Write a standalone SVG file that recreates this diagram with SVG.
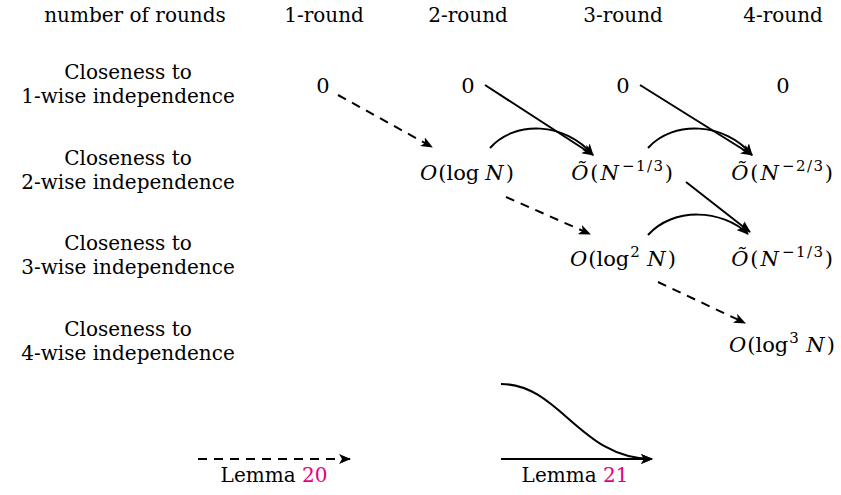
<svg xmlns="http://www.w3.org/2000/svg" width="841" height="495" viewBox="0 0 841 495">
<defs>
<style>
text{font-family:"DejaVu Serif",serif;font-size:20px;fill:#000;text-anchor:middle}
.m{font-size:21px}
.i{font-style:italic}
.sup{font-size:15px;letter-spacing:1.5px}
.ref{fill:#e6007e}
.c{fill:none;stroke:#000;stroke-width:2}
.d{stroke-dasharray:9,7}
</style>
<marker id="ah" viewBox="0 0 12 10" refX="11" refY="5" markerWidth="12" markerHeight="10" markerUnits="userSpaceOnUse" orient="auto">
<path d="M0,0 L12,5 L0,10 L3,5 Z" fill="#000"/>
</marker>
</defs>
<rect width="841" height="495" fill="#fff"/>
<g id="header">
<text x="135" y="22">number of rounds</text>
<text x="324" y="22">1-round</text>
<text x="468" y="22">2-round</text>
<text x="623" y="22">3-round</text>
<text x="783" y="22">4-round</text>
</g>
<g id="row-labels">
<text x="128" y="79">Closeness to</text>
<text x="128" y="103">1-wise independence</text>
<text x="128" y="165">Closeness to</text>
<text x="128" y="189">2-wise independence</text>
<text x="128" y="250">Closeness to</text>
<text x="128" y="274">3-wise independence</text>
<text x="128" y="336">Closeness to</text>
<text x="128" y="360">4-wise independence</text>
</g>
<g id="n11"><text class="m" x="323" y="93">0</text></g>
<g id="n12"><text class="m" x="468" y="93">0</text></g>
<g id="n13"><text class="m" x="623" y="93">0</text></g>
<g id="n14"><text class="m" x="783" y="93">0</text></g>
<g id="n22"><text class="m" x="467" y="180"><tspan class="i">O</tspan><tspan dx="1">(log</tspan><tspan class="i" dx="6">N</tspan><tspan dx="2">)</tspan></text></g>
<g id="n23"><text class="m" x="622" y="180"><tspan class="i">Õ</tspan><tspan dx="2">(</tspan><tspan class="i" dx="2">N</tspan><tspan class="sup" dx="3" dy="-9">−1/3</tspan><tspan dy="9">)</tspan></text></g>
<g id="n24"><text class="m" x="782" y="180"><tspan class="i">Õ</tspan><tspan dx="2">(</tspan><tspan class="i" dx="2">N</tspan><tspan class="sup" dx="3" dy="-9">−2/3</tspan><tspan dy="9">)</tspan></text></g>
<g id="n33"><text class="m" x="623" y="266"><tspan class="i">O</tspan><tspan dx="1">(log</tspan><tspan class="sup" dx="1" dy="-9">2</tspan><tspan class="i" dx="6" dy="9">N</tspan><tspan dx="2">)</tspan></text></g>
<g id="n34"><text class="m" x="782" y="266"><tspan class="i">Õ</tspan><tspan dx="2">(</tspan><tspan class="i" dx="2">N</tspan><tspan class="sup" dx="3" dy="-9">−1/3</tspan><tspan dy="9">)</tspan></text></g>
<g id="n44"><text class="m" x="782" y="352"><tspan class="i">O</tspan><tspan dx="1">(log</tspan><tspan class="sup" dx="1" dy="-9">3</tspan><tspan class="i" dx="6" dy="9">N</tspan><tspan dx="2">)</tspan></text></g>
<g id="connectors">
<path class="c d" d="M338,95 L432,147" marker-end="url(#ah)"/>
<path class="c" d="M485,85 L593,155" marker-end="url(#ah)"/>
<path class="c" d="M490,148 C515,120 565,122 593,155" marker-end="url(#ah)"/>
<path class="c" d="M640,85 L752,155" marker-end="url(#ah)"/>
<path class="c" d="M648,148 C673,120 725,122 752,155" marker-end="url(#ah)"/>
<path class="c d" d="M506,197 L590,234" marker-end="url(#ah)"/>
<path class="c" d="M686,182 L750,232" marker-end="url(#ah)"/>
<path class="c" d="M648,235 C673,207 722,209 748,234" marker-end="url(#ah)"/>
<path class="c d" d="M658,282 L745,323" marker-end="url(#ah)"/>
</g>
<g id="legend">
<path class="c d" d="M198,459 L350,459" marker-end="url(#ah)"/>
<text x="274" y="482">Lemma <tspan class="ref">20</tspan></text>
<path class="c" d="M501,459 L652,459" marker-end="url(#ah)"/>
<path class="c" d="M501,384 C560,384 580,459 652,459" marker-end="url(#ah)"/>
<text x="575" y="482">Lemma <tspan class="ref">21</tspan></text>
</g>
</svg>
